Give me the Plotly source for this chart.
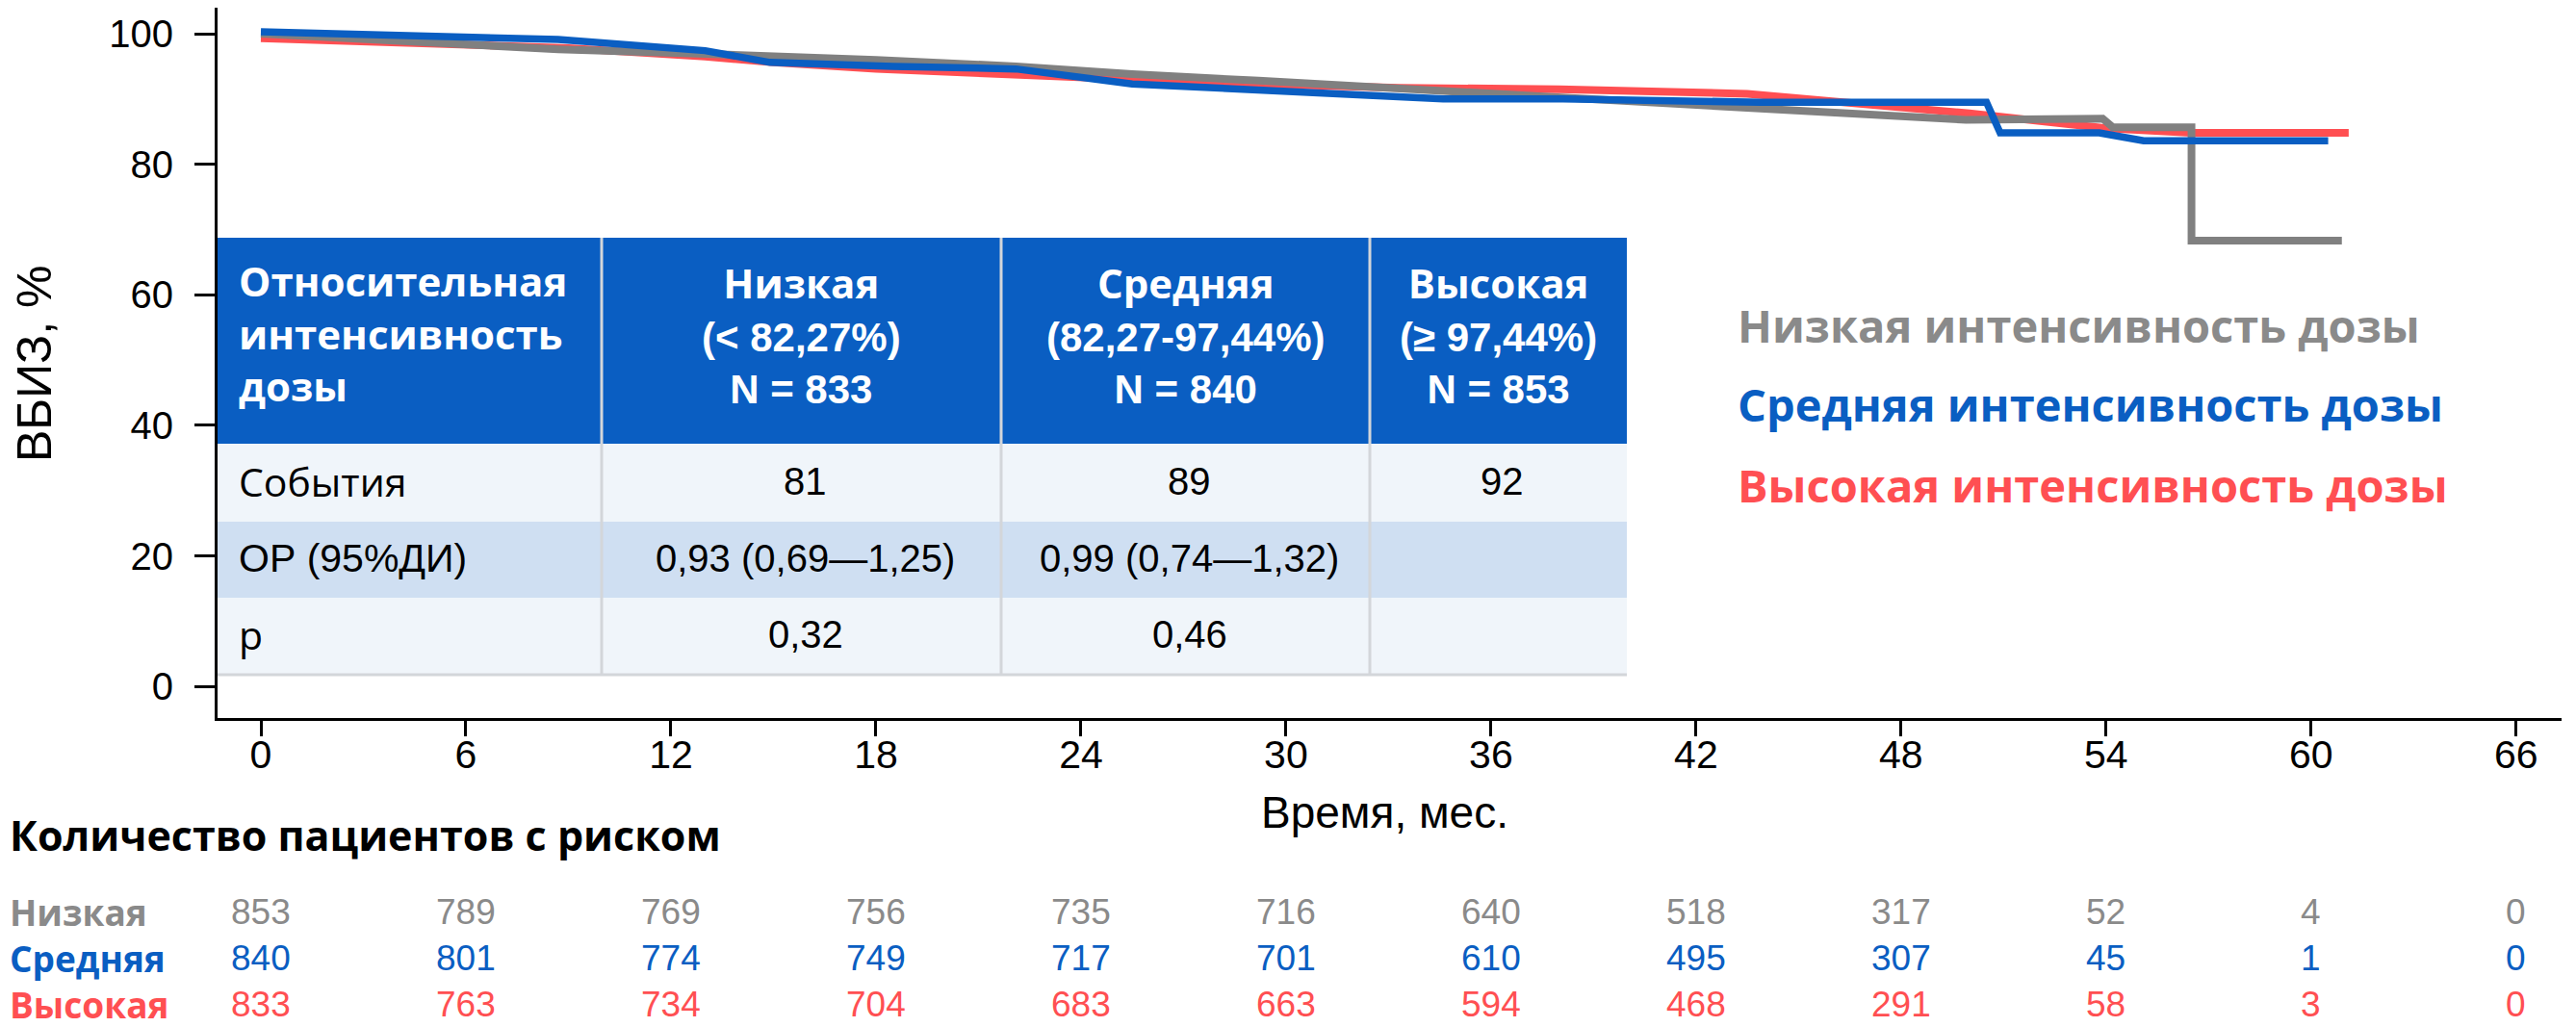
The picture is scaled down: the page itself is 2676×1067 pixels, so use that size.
import plotly.graph_objects as go

# ---------------- data ----------------
months_low = [0, 8.7, 13, 15, 18, 22.1, 25.5, 29.2, 34.6, 38, 43.9, 46, 49.9, 53.9, 54.2, 56.5, 56.5, 60.9]
surv_low = [100, 97.6, 96.9, 96.6, 96.0, 95.0, 93.8, 92.8, 91.2, 90.2, 88.7, 88.0, 86.8, 87.0, 85.65, 85.65, 68.3, 68.3]

months_mid = [0, 8.7, 13, 14.9, 18.5, 22.1, 25.5, 34.6, 38.1, 43.9, 50.5, 50.9, 53.8, 55.1, 60.5]
surv_mid = [100.3, 99.1, 97.4, 95.6, 95.0, 94.6, 92.3, 90.0, 90.0, 89.5, 89.5, 84.8, 84.8, 83.6, 83.6]

months_high = [0, 6, 9, 13, 15, 18, 22, 26, 30, 33.3, 38, 43.5, 50, 54, 56.5, 61.1]
surv_high = [99.3, 98.4, 97.8, 96.5, 95.6, 94.6, 93.7, 92.9, 92.2, 91.7, 91.5, 90.8, 87.8, 85.5, 84.8, 84.8]

x_ticks = [0, 6, 12, 18, 24, 30, 36, 42, 48, 54, 60, 66]
y_ticks = [0, 20, 40, 60, 80, 100]

legend_names = ["Низкая интенсивность дозы", "Средняя интенсивность дозы", "Высокая интенсивность дозы"]

table_header = [
    ["Относительная", "интенсивность", "дозы"],
    ["Низкая", "(< 82,27%)", "N = 833"],
    ["Средняя", "(82,27-97,44%)", "N = 840"],
    ["Высокая", "(≥ 97,44%)", "N = 853"],
]
row_labels = ["События", "ОР (95%ДИ)", "p"]
row_values = [
    ["81", "89", "92"],
    ["0,93 (0,69—1,25)", "0,99 (0,74—1,32)", ""],
    ["0,32", "0,46", ""],
]

risk_title = "Количество пациентов с риском"
risk_labels = ["Низкая", "Средняя", "Высокая"]
risk_low = [853, 789, 769, 756, 735, 716, 640, 518, 317, 52, 4, 0]
risk_mid = [840, 801, 774, 749, 717, 701, 610, 495, 307, 45, 1, 0]
risk_high = [833, 763, 734, 704, 683, 663, 594, 468, 291, 58, 3, 0]

# ---------------- style ----------------
GREY = "#808080"
GREY_TXT = "#8a8a8a"
BLUE = "#0a5ec2"
RED = "#ff4f52"
HEAD_BG = "#0a5ec2"
ROW_LIGHT = "#f0f5fa"
ROW_BLUE = "#cfdff2"
DIV = "#d3d6da"

W, H = 2676, 1067
L, R, T, B = 218, 2653, 0, 738

SANS = "Liberation Sans, Arial, Helvetica, sans-serif"
BOLD = "Open Sans, Noto Sans, sans-serif"


def px(xp):
    return (xp - L) / (R - L)


def py(yp):
    return (B - yp) / (B - T)


def colored(txt, col):
    return "<span style='color:%s'>%s</span>" % (col, txt)


fig = go.Figure()

fig.add_trace(go.Scatter(x=months_high, y=surv_high, mode="lines",
                         line=dict(color=RED, width=8), name=legend_names[2]))
fig.add_trace(go.Scatter(x=months_low, y=surv_low, mode="lines",
                         line=dict(color=GREY, width=8), name=legend_names[0]))
fig.add_trace(go.Scatter(x=months_mid, y=surv_mid, mode="lines",
                         line=dict(color=BLUE, width=7.5), name=legend_names[1]))

shapes = []
annotations = []

# ---------------- table ----------------
col_edges = [218, 617, 1032, 1415, 1682]
row_edges = [239, 453, 534, 613, 693]
row_fills = [ROW_LIGHT, ROW_BLUE, ROW_LIGHT]

shapes.append(dict(type="rect", xref="paper", yref="paper",
                   x0=px(col_edges[0]), x1=px(col_edges[-1]),
                   y0=py(row_edges[0]), y1=py(row_edges[1]),
                   fillcolor=HEAD_BG, line=dict(width=0), layer="above"))
for i, f in enumerate(row_fills):
    shapes.append(dict(type="rect", xref="paper", yref="paper",
                       x0=px(col_edges[0]), x1=px(col_edges[-1]),
                       y0=py(row_edges[i + 1]), y1=py(row_edges[i + 2]),
                       fillcolor=f, line=dict(width=0), layer="above"))
for xe in col_edges[1:-1]:
    shapes.append(dict(type="line", xref="paper", yref="paper",
                       x0=px(xe), x1=px(xe), y0=py(row_edges[0]), y1=py(row_edges[-1]),
                       line=dict(color=DIV, width=3), layer="above"))
shapes.append(dict(type="line", xref="paper", yref="paper",
                   x0=px(col_edges[0]), x1=px(col_edges[-1]),
                   y0=py(row_edges[-1]), y1=py(row_edges[-1]),
                   line=dict(color=DIV, width=3), layer="above"))

head_mid_y = 338
col_centers = [(col_edges[i] + col_edges[i + 1]) / 2 for i in range(len(col_edges) - 1)]
for c, lines in enumerate(table_header):
    if c == 0:
        txt = "<br>".join("<b>" + s + "</b>" for s in lines)
        annotations.append(dict(text=txt, xref="paper", yref="paper", align="left",
                                x=px(238), y=py(head_mid_y), xanchor="left", yanchor="middle",
                                showarrow=False, font=dict(family=BOLD, size=42, color="white")))
    else:
        txt = ("<b>" + lines[0] + "</b><br>"
               + "<span style='font-family:Liberation Sans, Arial, sans-serif'><b>" + lines[1] + "</b></span><br>"
               + "<span style='font-family:Liberation Sans, Arial, sans-serif'><b>" + lines[2] + "</b></span>")
        annotations.append(dict(text=txt, xref="paper", yref="paper", align="center",
                                x=px(col_centers[c]), y=py(head_mid_y), xanchor="center", yanchor="middle",
                                showarrow=False, font=dict(family=BOLD, size=42, color="white")))

for r, lab in enumerate(row_labels):
    yc = (row_edges[r + 1] + row_edges[r + 2]) / 2 - 2
    annotations.append(dict(text=lab, xref="paper", yref="paper", x=px(238), y=py(yc),
                            xanchor="left", yanchor="middle", showarrow=False,
                            font=dict(family=SANS if r == 1 else BOLD, size=41, color="black")))
    for c, val in enumerate(row_values[r]):
        if val:
            annotations.append(dict(text=val, xref="paper", yref="paper", x=px(col_centers[c + 1] + 4), y=py(yc),
                                    xanchor="center", yanchor="middle", showarrow=False,
                                    font=dict(family=SANS, size=40, color="black")))

# ---------------- legend text ----------------
legend_y = [330, 412, 496]
for name, col, yy in zip(legend_names, [GREY_TXT, BLUE, RED], legend_y):
    annotations.append(dict(text="<b>" + name + "</b>", xref="paper", yref="paper",
                            x=px(1795), y=py(yy), xanchor="left", yanchor="middle", showarrow=False,
                            font=dict(family=BOLD, size=47, color=col)))

# ---------------- axis titles ----------------
annotations.append(dict(text="ВБИЗ, %", xref="paper", yref="paper", x=px(28), y=py(370),
                        xanchor="center", yanchor="middle", textangle=-90, showarrow=False,
                        font=dict(family=SANS, size=50, color="black")))
annotations.append(dict(text="Время, мес.", xref="paper", yref="paper", x=px(1430), y=py(836),
                        xanchor="center", yanchor="middle", showarrow=False,
                        font=dict(family=SANS, size=46, color="black")))

# ---------------- risk table ----------------
annotations.append(dict(text="<b>" + risk_title + "</b>", xref="paper", yref="paper", x=px(0), y=py(860),
                        xanchor="left", yanchor="middle", showarrow=False,
                        font=dict(family=BOLD, size=43, color="black")))
risk_rows = [risk_low, risk_mid, risk_high]
risk_cols = [GREY_TXT, BLUE, RED]
risk_mid_y = 987
lab_txt = "<br>".join("<b>" + colored(l, c) + "</b>" for l, c in zip(risk_labels, risk_cols))
annotations.append(dict(text=lab_txt, xref="paper", yref="paper", x=px(0), y=py(risk_mid_y),
                        xanchor="left", yanchor="middle", align="left", showarrow=False,
                        font=dict(family=BOLD, size=37, color="black")))
for k, xv in enumerate(x_ticks):
    col_txt = "<br>".join(colored(str(vals[k]), c) for vals, c in zip(risk_rows, risk_cols))
    annotations.append(dict(text=col_txt, xref="x", yref="paper", x=xv, y=py(risk_mid_y),
                            xanchor="center", yanchor="middle", align="center", showarrow=False,
                            font=dict(family=SANS, size=37, color="black")))

fig.update_layout(
    width=W, height=H, autosize=False,
    margin=dict(l=L, r=W - R, t=T, b=H - B, pad=0),
    plot_bgcolor="white", paper_bgcolor="white",
    showlegend=False,
    shapes=shapes, annotations=annotations,
    xaxis=dict(range=[-1.268, 67.33], tickmode="array", tickvals=x_ticks,
               showline=True, linecolor="black", linewidth=3, showgrid=False, zeroline=False,
               ticks="outside", ticklen=16, tickwidth=3, tickcolor="black",
               ticklabelstandoff=-16,
               tickfont=dict(family=SANS, size=41, color="black")),
    yaxis=dict(range=[-4.82, 103.98], tickmode="array", tickvals=y_ticks,
               showline=True, linecolor="black", linewidth=3, showgrid=False, zeroline=False,
               ticks="outside", ticklen=21, tickwidth=3, tickcolor="black",
               ticklabelstandoff=14,
               tickfont=dict(family=SANS, size=40, color="black")),
)

fig.write_html("out.html")
